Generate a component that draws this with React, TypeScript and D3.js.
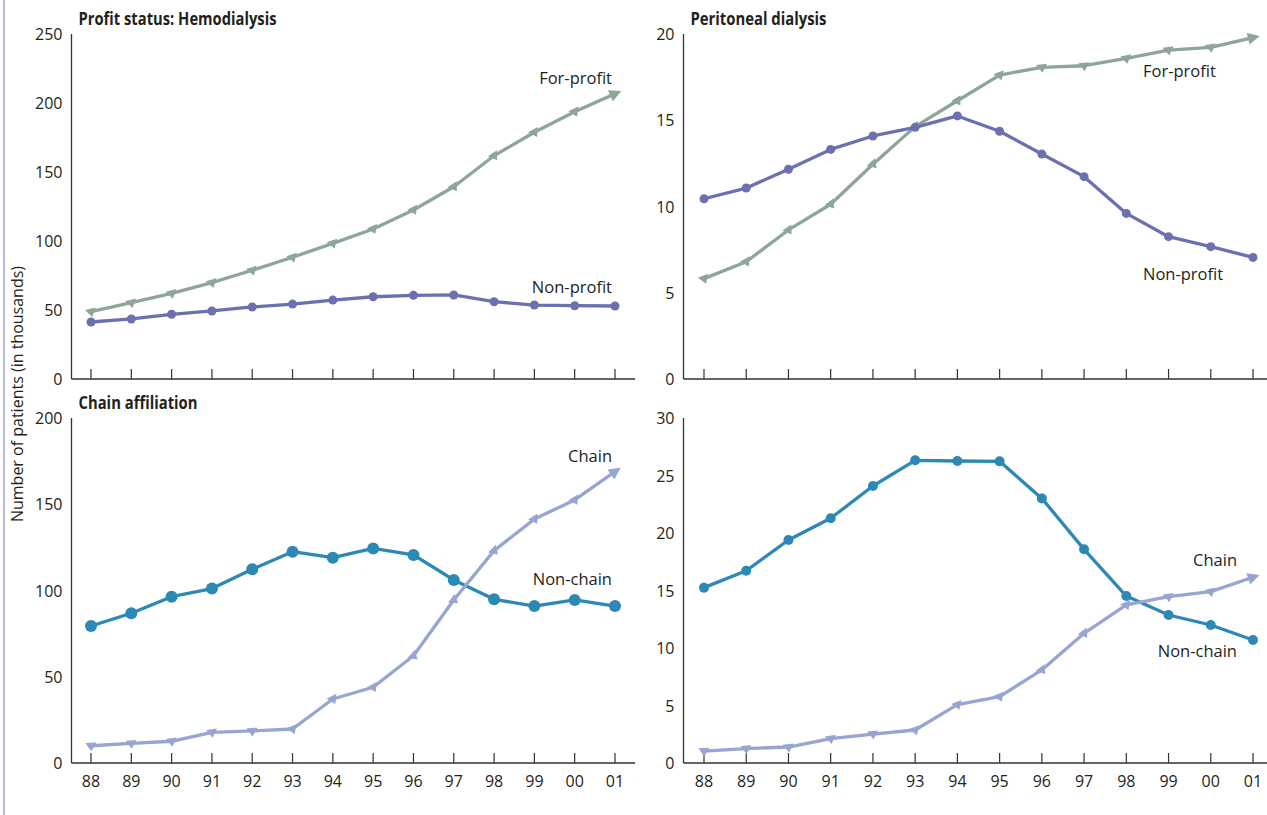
import React from "react";
import * as d3 from "d3";

const years = ["88", "89", "90", "91", "92", "93", "94", "95", "96", "97", "98", "99", "00", "01"];

const hemoForProfit = [48.8, 55.3, 62.1, 69.8, 78.8, 88.2, 98.3, 108.7, 122.5, 139.3, 161.8, 178.8, 193.7, 206.7];
const hemoNonProfit = [41.3, 43.5, 46.9, 49.3, 52.2, 54.3, 57.2, 59.6, 60.6, 60.9, 56.0, 53.6, 53.1, 52.9];

const pdForProfit = [5.82, 6.8, 8.64, 10.13, 12.45, 14.63, 16.13, 17.62, 18.07, 18.16, 18.59, 19.07, 19.23, 19.79];
const pdNonProfit = [10.45, 11.07, 12.16, 13.31, 14.09, 14.59, 15.25, 14.36, 13.04, 11.73, 9.6, 8.25, 7.67, 7.05];

const hemoChain = [10.0, 11.4, 12.6, 17.8, 18.6, 19.7, 37.1, 43.9, 62.2, 94.5, 123.1, 141.4, 152.5, 168.9];
const hemoNonChain = [79.4, 86.8, 96.4, 101.1, 112.3, 122.5, 119.0, 124.4, 120.6, 106.1, 94.9, 91.0, 94.5, 91.0];

const pdChain = [1.04, 1.25, 1.39, 2.12, 2.52, 2.87, 5.07, 5.77, 8.09, 11.28, 13.74, 14.46, 14.9, 16.15];
const pdNonChain = [15.25, 16.72, 19.39, 21.28, 24.09, 26.32, 26.26, 26.23, 23.01, 18.58, 14.52, 12.87, 12.0, 10.7];

const ticksHemoTop = [0, 50, 100, 150, 200, 250];
const ticksPdTop = [0, 5, 10, 15, 20];
const ticksHemoBottom = [0, 50, 100, 150, 200];
const ticksPdBottom = [0, 5, 10, 15, 20, 25, 30];

const C_FOR = "#8da698";
const C_NON = "#6b70b0";
const C_NONCHAIN = "#2c89b6";
const C_CHAIN = "#97a5d1";
const TEXT = "#231f20";
const FONT = "'Open Sans', 'Noto Sans', sans-serif";

type Series = {
  values: number[];
  color: string;
  marker: "circle" | "tri";
  r: number;
  label: string;
  lx: number;
  ly: number;
  anchor: "start" | "end";
};

type PanelProps = {
  x0: number;
  axisRight: number;
  top: number;
  bottom: number;
  firstTickX: number;
  lastTickX: number;
  max: number;
  ticks: number[];
  title?: string;
  titleWidth?: number;
  showXLabels: boolean;
  series: Series[];
};

function Panel(p: PanelProps) {
  const x = d3.scalePoint<string>().domain(years).range([p.firstTickX, p.lastTickX]);
  const y = d3.scaleLinear().domain([0, p.max]).range([p.bottom, p.top]);
  const line = d3
    .line<number>()
    .x((_, i) => x(years[i]) as number)
    .y((d) => y(d));
  return (
    <g>
      {p.title && (
        <text
          x={p.x0 + 7}
          y={p.top - 9}
          fontFamily={FONT}
          fontWeight={700}
          fontSize={17}
          fill={TEXT}
          textLength={p.titleWidth}
          lengthAdjust="spacingAndGlyphs"
        >
          {p.title}
        </text>
      )}
      <line x1={p.x0} x2={p.x0} y1={p.top} y2={p.bottom} stroke="#333" strokeWidth={1.3} />
      <line x1={p.x0} x2={p.axisRight} y1={p.bottom} y2={p.bottom} stroke="#333" strokeWidth={1.3} />
      {p.ticks.map((t) => (
        <text
          key={t}
          x={p.x0 - 9}
          y={y(t) + 6}
          textAnchor="end"
          fontFamily={FONT}
          fontSize={16}
          fill={TEXT}
        >
          {t}
        </text>
      ))}
      {years.map((yr) => (
        <g key={yr}>
          <line
            x1={x(yr)}
            x2={x(yr)}
            y1={p.bottom}
            y2={p.bottom - 10}
            stroke="#333"
            strokeWidth={1.2}
          />
          {p.showXLabels && (
            <text
              x={x(yr)}
              y={p.bottom + 24}
              textAnchor="middle"
              fontFamily={FONT}
              fontSize={16}
              fill={TEXT}
            >
              {yr}
            </text>
          )}
        </g>
      ))}
      {p.series.map((s, si) => {
        const pts = s.values.map((v, i) => [x(years[i]) as number, y(v)]);
        return (
          <g key={si}>
            <path d={line(s.values) || ""} fill="none" stroke={s.color} strokeWidth={3.3} strokeLinejoin="round" />
            {pts.map(([px, py], i) => {
              if (s.marker === "circle") {
                return <circle key={i} cx={px} cy={py} r={s.r} fill={s.color} />;
              }
              const prev = pts[Math.max(0, i - 1)];
              const next = pts[Math.min(pts.length - 1, i + 1)];
              const ang = (Math.atan2(next[1] - prev[1], next[0] - prev[0]) * 180) / Math.PI;
              if (i === pts.length - 1) {
                return (
                  <polygon
                    key={i}
                    points="7,0 -5,-6 -5,6"
                    fill={s.color}
                    transform={`translate(${px},${py}) rotate(${ang})`}
                  />
                );
              }
              return (
                <polygon
                  key={i}
                  points="-5.5,-3 5.5,-3 0,5.5"
                  fill={s.color}
                  transform={`translate(${px},${py}) rotate(${ang})`}
                />
              );
            })}
            <text
              x={s.lx}
              y={s.ly}
              textAnchor={s.anchor}
              fontFamily={FONT}
              fontSize={16.5}
              fill={TEXT}
            >
              {s.label}
            </text>
          </g>
        );
      })}
    </g>
  );
}

export default function App() {
  return (
    <svg
      width={1267}
      height={815}
      style={{ position: "absolute", left: 0, top: 0, background: "#fff" }}
    >
      <line x1={4} x2={4} y1={0} y2={815} stroke="#a3a3cf" strokeWidth={1.5} />
      <text
        transform="translate(23,394) rotate(-90)"
        textAnchor="middle"
        fontFamily={FONT}
        fontSize={16}
        fill={TEXT}
      >
        Number of patients (in thousands)
      </text>
      <Panel
        x0={71.5}
        axisRight={635}
        top={34}
        bottom={379}
        firstTickX={91}
        lastTickX={615}
        max={250}
        ticks={ticksHemoTop}
        title="Profit status: Hemodialysis"
        titleWidth={198}
        showXLabels={false}
        series={[
          { values: hemoForProfit, color: C_FOR, marker: "tri", r: 4.5, label: "For-profit", lx: 612, ly: 84, anchor: "end" },
          { values: hemoNonProfit, color: C_NON, marker: "circle", r: 4.5, label: "Non-profit", lx: 612, ly: 293, anchor: "end" },
        ]}
      />
      <Panel
        x0={683.5}
        axisRight={1267}
        top={34}
        bottom={379}
        firstTickX={704}
        lastTickX={1253}
        max={20}
        ticks={ticksPdTop}
        title="Peritoneal dialysis"
        titleWidth={136}
        showXLabels={false}
        series={[
          { values: pdForProfit, color: C_FOR, marker: "tri", r: 4.5, label: "For-profit", lx: 1143, ly: 77, anchor: "start" },
          { values: pdNonProfit, color: C_NON, marker: "circle", r: 4.5, label: "Non-profit", lx: 1143, ly: 280, anchor: "start" },
        ]}
      />
      <Panel
        x0={71.5}
        axisRight={635}
        top={418}
        bottom={763}
        firstTickX={91}
        lastTickX={615}
        max={200}
        ticks={ticksHemoBottom}
        title="Chain affiliation"
        titleWidth={119}
        showXLabels={true}
        series={[
          { values: hemoNonChain, color: C_NONCHAIN, marker: "circle", r: 6, label: "Non-chain", lx: 612, ly: 585, anchor: "end" },
          { values: hemoChain, color: C_CHAIN, marker: "tri", r: 5, label: "Chain", lx: 612, ly: 462, anchor: "end" },
        ]}
      />
      <Panel
        x0={683.5}
        axisRight={1267}
        top={418}
        bottom={763}
        firstTickX={704}
        lastTickX={1253}
        max={30}
        ticks={ticksPdBottom}
        showXLabels={true}
        series={[
          { values: pdNonChain, color: C_NONCHAIN, marker: "circle", r: 5, label: "Non-chain", lx: 1237, ly: 657, anchor: "end" },
          { values: pdChain, color: C_CHAIN, marker: "tri", r: 5, label: "Chain", lx: 1237, ly: 566, anchor: "end" },
        ]}
      />
    </svg>
  );
}
